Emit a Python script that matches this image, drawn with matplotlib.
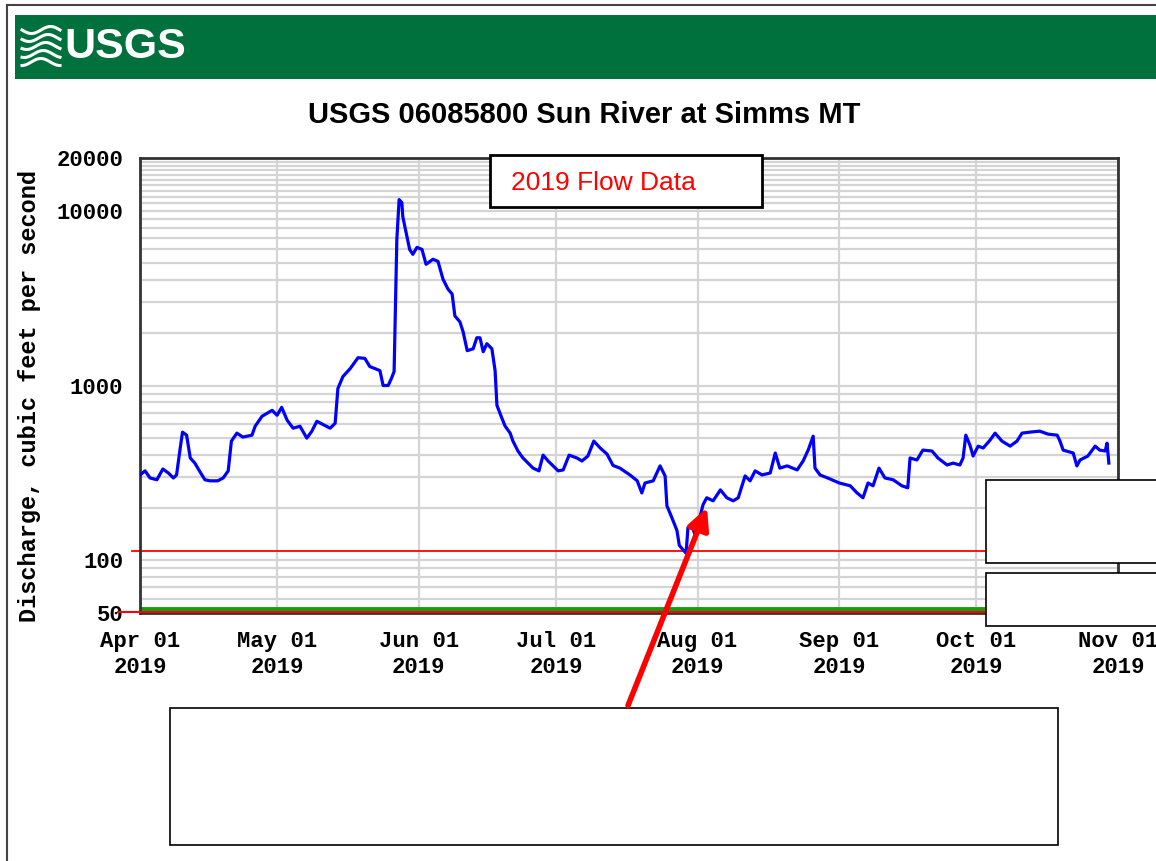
import numpy as np
import pandas as pd
import matplotlib
matplotlib.use("Agg")
import matplotlib.pyplot as plt
from matplotlib.patches import Rectangle, FancyArrowPatch
from matplotlib.lines import Line2D
from matplotlib.ticker import FixedLocator, NullFormatter
from matplotlib.transforms import blended_transform_factory

W, H = 1156, 861

# discharge: days after 2019-04-01 and flow in cfs
days = [0, 1.1, 2.2, 3.7, 5, 6.2, 7.3, 8, 8.8, 9.3, 10.2, 11, 12, 13, 14.2, 15.3,
        17, 18.2, 19.3, 20, 21.2, 22.5, 24.5, 25.2, 26.7, 28.9, 30, 31, 32.2, 33.5,
        35, 36.5, 37.6, 38.7, 41.6, 42.7, 43.3, 44.4, 46, 47.7, 49.2, 50.3, 51.4,
        52.5, 53.2, 54.3, 55, 55.6, 55.8, 56.2, 56.7, 57.3, 57.5, 58.4, 59, 59.7,
        60.6, 61.7, 62.6, 64.1, 65.2, 66.3, 67.4, 68.3, 68.9, 70, 70.7, 71.6, 72.9,
        73.7, 74.4, 75.1, 75.9, 77, 77.7, 78.1, 79.2, 79.9, 81, 81.6, 82.7, 83.8,
        84.9, 86, 87.3, 88.2, 89.3, 90.4, 91.5, 92.6, 93.9, 95.6, 96.7, 98, 99.3,
        100.7, 102.2, 103.5, 105, 107.2, 108.8, 109.8, 110.5, 112.3, 113.8, 114.9,
        115.3, 116.4, 117.5, 118, 118.8, 119.5, 119.9, 120.8, 121.4, 122.1, 123.2,
        124, 125.4, 127, 128.4, 129.8, 130.9, 132.4, 133.5, 134.6, 136.1, 137.9,
        139, 140, 141.6, 143.8, 145.1, 146.2, 147.3, 147.7, 148.8, 151, 153, 155.4,
        156.9, 158.2, 159.3, 160.4, 161.7, 163, 164.8, 166.7, 168, 168.5, 170,
        171.3, 173.3, 174.6, 176.6, 177.9, 179.4, 180.1, 180.7, 181.6, 182.3,
        183.4, 184.5, 186, 187.1, 188.6, 190.4, 191.9, 193, 194.7, 196.9, 198.7,
        200.7, 201.3, 202, 204.2, 205, 205.7, 207.4, 209, 210, 211.2, 211.6, 212]
flow = [308, 325, 296, 289, 333, 316, 296, 308, 439, 541, 520, 385, 360, 325, 289, 285,
        285, 296, 325, 481, 534, 507, 520, 585, 667, 721, 676, 750, 633, 570,
        585, 500, 548, 624, 570, 608, 961, 1125, 1250, 1442, 1429, 1282, 1250,
        1216, 1000, 1000, 1096, 1202, 2193, 6840, 11560, 11100, 9245, 7110, 6000, 5623,
        6166, 6000, 4932, 5272, 5129, 4055, 3557, 3334, 2500, 2312, 2028, 1582, 1622,
        1875, 1874, 1560, 1734, 1622, 1216, 770, 649, 585, 534, 481, 422, 385,
        360, 337, 325, 400, 370, 347, 325, 329, 400, 385, 370, 395, 481,
        439, 405, 349, 337, 308, 285, 243, 277, 285, 347, 304,
        205, 175, 148, 122, 115, 110, 154, 158, 141, 160, 208,
        228, 219, 253, 228, 219, 228, 304, 285, 325, 308, 316,
        411, 337, 347, 329, 370, 427, 513, 337, 308, 292, 277, 267,
        243, 228, 277, 267, 337, 296, 289, 267, 260, 385, 375,
        427, 422, 385, 351, 360, 351, 385, 520, 456, 395,
        450, 439, 487, 534, 481, 450, 481, 534, 541, 548, 527,
        520, 481, 427, 411, 347, 375, 395, 450, 427, 422, 468, 360]

month_starts = ["2019-04-01", "2019-05-01", "2019-06-01", "2019-07-01",
                "2019-08-01", "2019-09-01", "2019-10-01", "2019-11-01"]
month_labels = ["Apr 01\n2019", "May 01\n2019", "Jun 01\n2019", "Jul 01\n2019",
                "Aug 01\n2019", "Sep 01\n2019", "Oct 01\n2019", "Nov 01\n2019"]
y_ticks = [50, 100, 1000, 10000, 20000]
y_labels = ["50", "100", "1000", "10000", "20000"]
y_minor = [60, 70, 80, 90] + list(range(200, 1000, 100)) + \
          list(range(2000, 10000, 1000)) + list(range(11000, 20000, 1000))
low_flow = 113

dates = pd.Timestamp("2019-04-01") + pd.to_timedelta(days, unit="D")
ticks = pd.to_datetime(month_starts)

mono = ["Liberation Mono", "DejaVu Sans Mono"]
sans = ["Liberation Sans", "DejaVu Sans"]
green = "#00703c"


def fx(x):
    return np.asarray(x) / W


def fy(y):
    return 1 - np.asarray(y) / H


fig = plt.figure(figsize=(W / 100, H / 100), dpi=100)
fig.patch.set_facecolor("white")

# page frame
fig.add_artist(Line2D([fx(7), fx(7)], [fy(5), fy(861)], color="#444444", lw=1.5))
fig.add_artist(Line2D([fx(7), 1], [fy(5), fy(5)], color="#444444", lw=1.5))

# header band with logo
fig.add_artist(Rectangle((fx(15), fy(79)), 1 - fx(15), (79 - 15) / H,
                         facecolor=green, edgecolor="none"))
for i in range(5):
    xs = np.linspace(22, 60, 30)
    ys = 30 + i * 8 + 3.5 * np.sin((xs - 22) / 38 * 2 * np.pi + i * 0.4)
    fig.add_artist(Line2D(fx(xs), fy(ys), color="white", lw=2.2))
fig.text(fx(64), fy(47), "USGS", color="white", fontsize=31, fontweight="bold",
         family=sans, va="center", ha="left")

fig.text(fx(584), fy(115), "USGS 06085800 Sun River at Simms MT", fontsize=21,
         fontweight="bold", family=sans, ha="center", va="center")

ax = fig.add_axes([fx(140), fy(613), (1118 - 140) / W, (613 - 158) / H])
ax.set_yscale("log")
ax.set_ylim(50, 20000)
ax.set_xlim(ticks[0], ticks[-1])

ax.yaxis.set_major_locator(FixedLocator(y_ticks))
ax.yaxis.set_minor_locator(FixedLocator(y_minor))
ax.yaxis.set_minor_formatter(NullFormatter())
ax.set_yticklabels(y_labels)
ax.set_xticks(ticks)
ax.set_xticklabels(month_labels, linespacing=1.3)
ax.grid(True, which="both", axis="y", color="#d4d4d4", lw=1.6)
ax.grid(True, which="major", axis="x", color="#d4d4d4", lw=1.6)
ax.set_axisbelow(True)
ax.tick_params(which="both", length=0)
ax.tick_params(axis="y", pad=12)
ax.tick_params(axis="x", pad=13)
for lab in ax.get_xticklabels() + ax.get_yticklabels():
    lab.set_family(mono)
    lab.set_fontweight("bold")
    lab.set_fontsize(16)
for s in ax.spines.values():
    s.set_color("#333333")
    s.set_linewidth(2)

ax.plot(dates, flow, color="#0000ff", lw=2.3, zorder=3)

tr = blended_transform_factory(ax.transAxes, ax.transData)
ax.plot([-0.008, 1], [low_flow, low_flow], transform=tr, color="red", lw=1.3,
        clip_on=False, zorder=2)
ax.plot([0, 1], [0.008, 0.008], transform=ax.transAxes, color="#10a010", lw=3.5,
        zorder=2)
ax.plot([-0.023, 1], [0.002, 0.002], transform=ax.transAxes, color="red", lw=1.5,
        clip_on=False, zorder=4)

fig.text(fx(30), fy(396), "Discharge, cubic feet per second", rotation=90,
         family=mono, fontweight="bold", fontsize=17, ha="center", va="center")

# overlay boxes
fig.add_artist(Rectangle((fx(490), fy(207)), (762 - 490) / W, (207 - 155) / H,
                         facecolor="white", edgecolor="black", lw=2, zorder=5))
fig.text(fx(511), fy(183), "2019 Flow Data", color="red", fontsize=19,
         family=sans, va="center", ha="left", zorder=6)
for top, bot in [(480, 563), (573, 626)]:
    fig.add_artist(Rectangle((fx(986), fy(bot)), 1, (bot - top) / H,
                             facecolor="white", edgecolor="black", lw=1.2, zorder=5))
fig.add_artist(Rectangle((fx(170), fy(845)), (1058 - 170) / W, (845 - 708) / H,
                         facecolor="white", edgecolor="black", lw=1.2, zorder=5))

fig.add_artist(FancyArrowPatch((fx(627), fy(708)), (fx(708), fy(505)),
                               transform=fig.transFigure, arrowstyle="-|>",
                               mutation_scale=32, lw=4, color="red", zorder=6))

fig.savefig("out.png", dpi=100)
